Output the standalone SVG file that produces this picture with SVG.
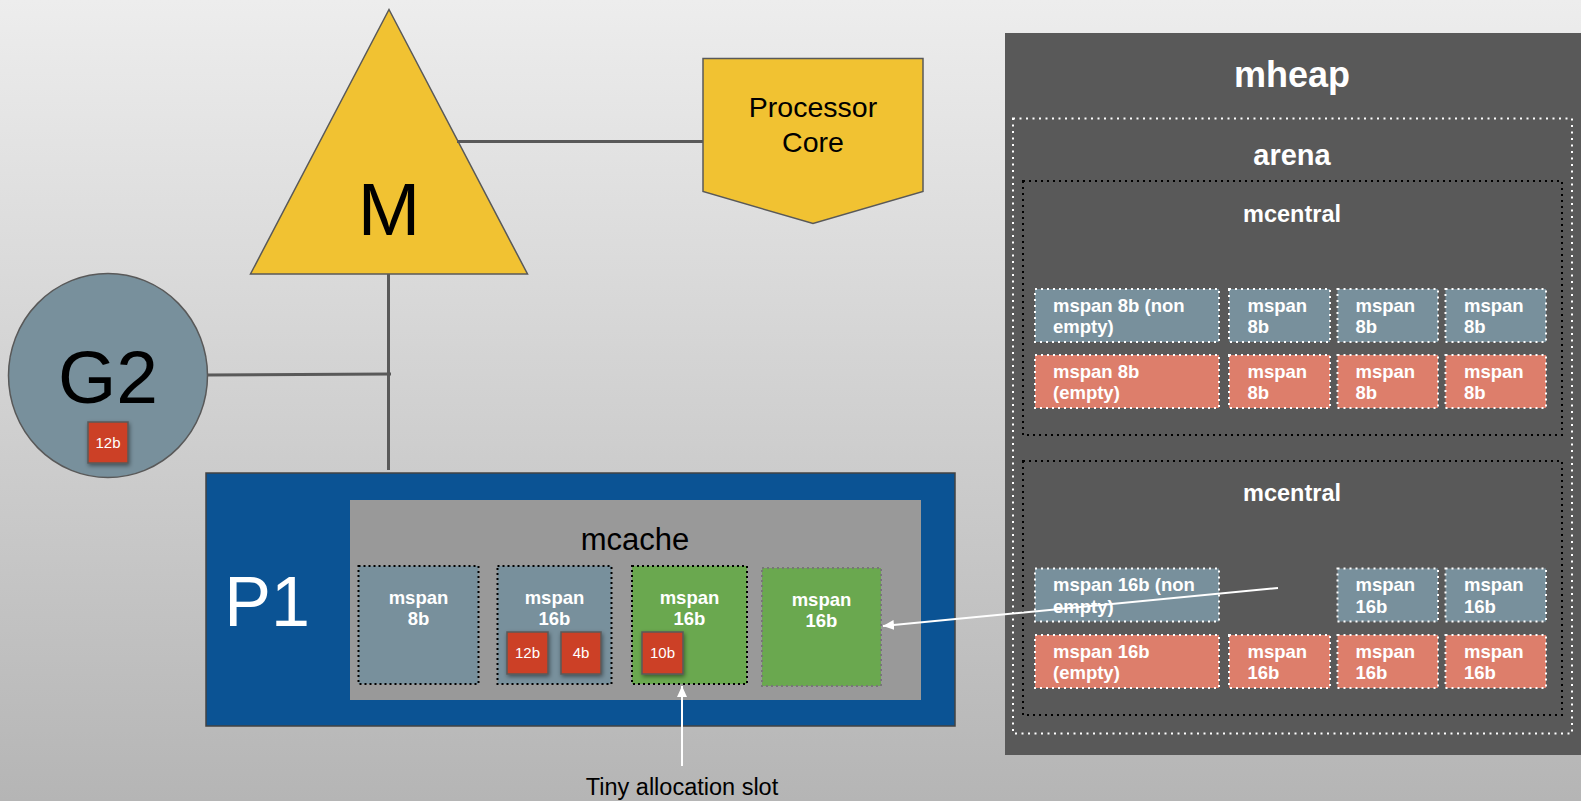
<svg xmlns="http://www.w3.org/2000/svg" width="1581" height="801" viewBox="0 0 1581 801">
<defs>
  <linearGradient id="bg" x1="0" y1="0" x2="0" y2="1">
    <stop offset="0" stop-color="#ededed"/>
    <stop offset="1" stop-color="#b5b5b5"/>
  </linearGradient>
  <marker id="arr" markerUnits="userSpaceOnUse" markerWidth="11" markerHeight="10" refX="11" refY="5" orient="auto">
    <path d="M0,0 L11,5 L0,10 z" fill="#ffffff"/>
  </marker>
  <filter id="sh" x="-30%" y="-30%" width="170%" height="170%">
    <feDropShadow dx="1" dy="2" stdDeviation="2" flood-color="#000" flood-opacity="0.45"/>
  </filter>
</defs>
<style>
  text { font-family: "Liberation Sans", Arial, sans-serif; }
  .line { stroke: #595959; stroke-width: 3; fill: none; }
  .big { font-size: 75px; text-anchor: middle; }
  .sp { font-size: 18.5px; font-weight: bold; fill: #ffffff; }
  .spc { font-size: 18.5px; font-weight: bold; fill: #ffffff; text-anchor: middle; }
  .blue { fill: #78909c; stroke: #ffffff; stroke-width: 2; stroke-dasharray: 2 4; }
  .red { fill: #dd7e6b; stroke: #ffffff; stroke-width: 2; stroke-dasharray: 2 4; }
  .mc { fill: none; stroke: #000000; stroke-width: 2; stroke-dasharray: 2 4; }
  .cbox { stroke: #000000; stroke-width: 2; stroke-dasharray: 2 3; }
  .alloc { fill: #cc4125; stroke: #595959; stroke-width: 1.5; filter: url(#sh); }
  .at { font-size: 15px; fill: #ffffff; text-anchor: middle; }
  .ttl { font-weight: bold; fill: #ffffff; text-anchor: middle; }
  .warr { stroke: #ffffff; stroke-width: 2; marker-end: url(#arr); }
</style>
<rect x="0" y="0" width="1581" height="801" fill="url(#bg)"/>

<g id="M">
  <polygon points="389,9.5 250.5,274 527.5,274" fill="#f1c232" stroke="#595959" stroke-width="1.5"/>
  <text class="big" x="389" y="235">M</text>
</g>

<g id="processor">
  <polygon points="703,58.5 923,58.5 923,191.5 813,223.5 703,191.5" fill="#f1c232" stroke="#595959" stroke-width="1.5"/>
  <text x="813" y="117" font-size="28.5" text-anchor="middle">Processor</text>
  <text x="813" y="152" font-size="28.5" text-anchor="middle">Core</text>
</g>

<g id="G2">
  <ellipse cx="108" cy="375.5" rx="99.5" ry="102" fill="#78909c" stroke="#595959" stroke-width="1.5"/>
  <text class="big" x="108" y="403">G2</text>
  <rect class="alloc" x="88" y="422" width="40" height="41"/>
  <text class="at" x="108" y="448">12b</text>
</g>

<g id="P1">
  <rect x="206" y="473" width="749" height="253" fill="#0b5394" stroke="#434343" stroke-width="1.5"/>
  <text x="267" y="626" font-size="70" fill="#ffffff" text-anchor="middle">P1</text>
</g>

<g id="mcache">
  <rect x="350" y="500" width="571" height="200" fill="#999999"/>
  <text x="635" y="550" font-size="31" text-anchor="middle">mcache</text>
  <g id="mc-span1">
    <rect class="cbox" x="358.5" y="566" width="120" height="118" fill="#78909c"/>
    <text class="spc" x="418.5" y="604">mspan</text>
    <text class="spc" x="418.5" y="625">8b</text>
  </g>
  <g id="mc-span2">
    <rect class="cbox" x="497.5" y="566" width="114" height="118" fill="#78909c"/>
    <text class="spc" x="554.5" y="604">mspan</text>
    <text class="spc" x="554.5" y="625">16b</text>
    <rect class="alloc" x="507" y="632" width="41" height="42"/>
    <text class="at" x="527.5" y="658">12b</text>
    <rect class="alloc" x="561" y="632" width="40" height="42"/>
    <text class="at" x="581" y="658">4b</text>
  </g>
  <g id="mc-span3">
    <rect class="cbox" x="632" y="566" width="115" height="118" fill="#6aa84f"/>
    <text class="spc" x="689.5" y="604">mspan</text>
    <text class="spc" x="689.5" y="625">16b</text>
    <rect class="alloc" x="642" y="632" width="41" height="42"/>
    <text class="at" x="662.5" y="658">10b</text>
  </g>
  <g id="mc-span4">
    <rect x="762" y="568" width="119" height="118" fill="#6aa84f" stroke="#777777" stroke-width="2" stroke-dasharray="2 3"/>
    <text class="spc" x="821.5" y="606">mspan</text>
    <text class="spc" x="821.5" y="627">16b</text>
  </g>
</g>

<g id="tiny-label">
  <text x="682" y="795" font-size="23.5" text-anchor="middle">Tiny allocation slot</text>
</g>

<g id="mheap">
  <rect x="1005" y="33" width="576" height="722" fill="#595959"/>
  <text class="ttl" x="1292" y="87" font-size="36">mheap</text>
  <g id="arena">
    <rect x="1013" y="118.5" width="559" height="615" fill="none" stroke="#ffffff" stroke-width="2" stroke-dasharray="2 4.5"/>
    <text class="ttl" x="1292" y="165" font-size="29">arena</text>
  </g>
  <g id="mcentral1">
    <rect class="mc" x="1023" y="181" width="539" height="254"/>
    <text class="ttl" x="1292" y="221.5" font-size="23.5">mcentral</text>
    <rect class="blue" x="1035" y="289" width="184" height="53"/>
    <text class="sp" x="1053" y="311.5">mspan 8b (non</text>
    <text class="sp" x="1053" y="333">empty)</text>
    <rect class="blue" x="1229" y="289" width="101" height="53"/>
    <text class="sp" x="1247.5" y="311.5">mspan</text>
    <text class="sp" x="1247.5" y="333">8b</text>
    <rect class="blue" x="1337.5" y="289" width="100.5" height="53"/>
    <text class="sp" x="1355.5" y="311.5">mspan</text>
    <text class="sp" x="1355.5" y="333">8b</text>
    <rect class="blue" x="1445.5" y="289" width="100.5" height="53"/>
    <text class="sp" x="1464" y="311.5">mspan</text>
    <text class="sp" x="1464" y="333">8b</text>
    <rect class="red" x="1035" y="355" width="184" height="53"/>
    <text class="sp" x="1053" y="377.5">mspan 8b</text>
    <text class="sp" x="1053" y="399">(empty)</text>
    <rect class="red" x="1229" y="355" width="101" height="53"/>
    <text class="sp" x="1247.5" y="377.5">mspan</text>
    <text class="sp" x="1247.5" y="399">8b</text>
    <rect class="red" x="1337.5" y="355" width="100.5" height="53"/>
    <text class="sp" x="1355.5" y="377.5">mspan</text>
    <text class="sp" x="1355.5" y="399">8b</text>
    <rect class="red" x="1445.5" y="355" width="100.5" height="53"/>
    <text class="sp" x="1464" y="377.5">mspan</text>
    <text class="sp" x="1464" y="399">8b</text>
  </g>
  <g id="mcentral2">
    <rect class="mc" x="1023" y="461" width="539" height="254"/>
    <text class="ttl" x="1292" y="500.5" font-size="23.5">mcentral</text>
    <rect class="blue" x="1035" y="568.5" width="184" height="53"/>
    <text class="sp" x="1053" y="591">mspan 16b (non</text>
    <text class="sp" x="1053" y="612.5">empty)</text>
    <rect class="blue" x="1337.5" y="568.5" width="100.5" height="53"/>
    <text class="sp" x="1355.5" y="591">mspan</text>
    <text class="sp" x="1355.5" y="612.5">16b</text>
    <rect class="blue" x="1445.5" y="568.5" width="100.5" height="53"/>
    <text class="sp" x="1464" y="591">mspan</text>
    <text class="sp" x="1464" y="612.5">16b</text>
    <rect class="red" x="1035" y="635" width="184" height="53"/>
    <text class="sp" x="1053" y="657.5">mspan 16b</text>
    <text class="sp" x="1053" y="679">(empty)</text>
    <rect class="red" x="1229" y="635" width="101" height="53"/>
    <text class="sp" x="1247.5" y="657.5">mspan</text>
    <text class="sp" x="1247.5" y="679">16b</text>
    <rect class="red" x="1337.5" y="635" width="100.5" height="53"/>
    <text class="sp" x="1355.5" y="657.5">mspan</text>
    <text class="sp" x="1355.5" y="679">16b</text>
    <rect class="red" x="1445.5" y="635" width="100.5" height="53"/>
    <text class="sp" x="1464" y="657.5">mspan</text>
    <text class="sp" x="1464" y="679">16b</text>
  </g>
</g>

<g id="connectors">
  <line class="line" x1="457" y1="141.5" x2="703" y2="141.5"/>
  <line class="line" x1="388.5" y1="274" x2="388.5" y2="470"/>
  <line class="line" x1="207" y1="375" x2="391" y2="374"/>
  <line class="warr" x1="682" y1="766" x2="682" y2="686"/>
  <line class="warr" x1="1278" y1="588" x2="883" y2="626"/>
</g>
</svg>
